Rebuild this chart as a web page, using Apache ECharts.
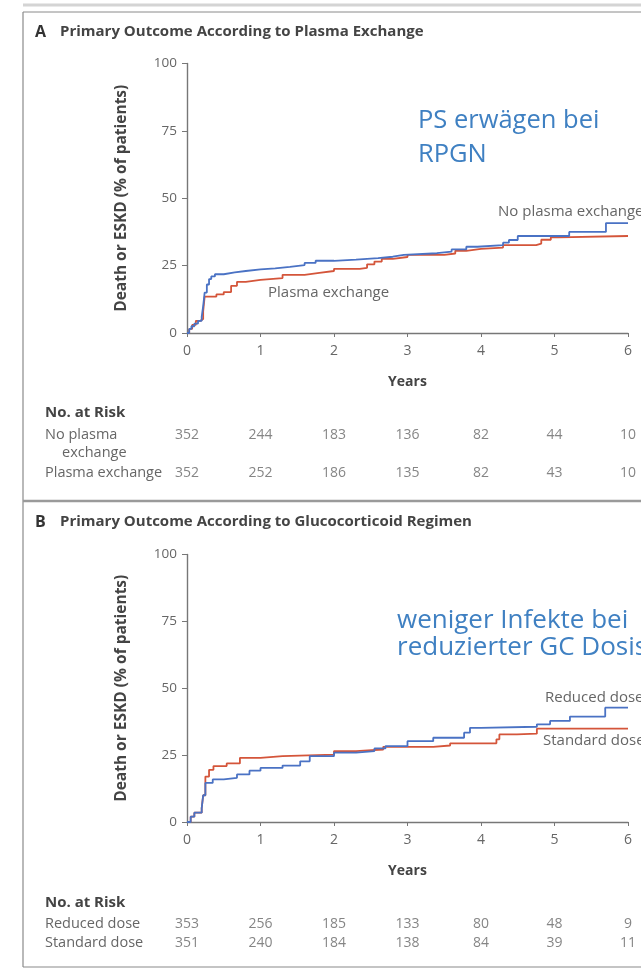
<!DOCTYPE html>
<html><head><meta charset="utf-8">
<script src="https://cdn.jsdelivr.net/npm/echarts@6/dist/echarts.min.js"></script>
<style>html,body{margin:0;padding:0;background:#fff}#c{width:641px;height:970px}</style>
</head><body><div id="c"></div>
<script>
// ---- Data ----
const yearTicks = [0, 1, 2, 3, 4, 5, 6];
const riskYears = [0, 1, 2, 3, 4, 5, 6];
// Panel A
const noPlasma = [[0,0],[0.03,1.5],[0.06,2.5],[0.1,3.5],[0.15,4.5],[0.2,6],[0.22,10],[0.24,15],[0.27,18],[0.3,20],[0.33,21],[0.38,21.8],[0.5,22.5],[0.65,23],[0.8,23.6],[1.0,24],[1.2,24.5],[1.4,25.2],[1.6,26],[1.75,26.8],[2.0,27.2],[2.3,27.8],[2.6,28.3],[2.8,29],[2.95,29.6],[3.4,30.2],[3.6,31],[3.8,32],[3.95,32.6],[4.3,33.5],[4.38,34.5],[4.5,36],[5.2,37.5],[5.7,40.8],[6,40.8]];
const plasma = [[0,0],[0.03,1.5],[0.07,3],[0.12,4.5],[0.18,5.2],[0.22,8],[0.24,13.5],[0.4,14.3],[0.5,15.2],[0.6,17.5],[0.68,19],[0.8,19.7],[1.0,20.4],[1.3,21.6],[1.6,22.3],[1.8,23],[2.0,23.8],[2.35,24.2],[2.45,25.5],[2.55,26.5],[2.65,27.5],[2.8,28.2],[3.0,29],[3.5,29.5],[3.65,30.5],[3.8,31.2],[4.0,31.7],[4.3,32.6],[4.75,33.2],[4.82,34.6],[4.95,35.5],[5.05,36],[6,36]];
const riskNoPlasma = [352, 244, 183, 136, 82, 44, 10];
const riskPlasma = [352, 252, 186, 135, 82, 43, 10];
// Panel B
const reducedDose = [[0,0],[0.05,2],[0.1,3.5],[0.2,5.2],[0.22,10],[0.25,14.6],[0.35,15.9],[0.5,16.5],[0.68,17.8],[0.85,19.2],[1.0,20.2],[1.3,21.1],[1.54,22.7],[1.67,24.6],[2.0,25.9],[2.3,26.5],[2.55,27.5],[2.7,28.4],[3.0,30.2],[3.35,31.5],[3.77,33.4],[3.85,35.2],[4.0,35.6],[4.76,36.5],[4.94,37.8],[5.21,39.4],[5.69,42.75],[6,42.75]];
const standardDose = [[0,0],[0.05,2],[0.1,3.5],[0.2,5.2],[0.22,10],[0.25,17],[0.3,19.5],[0.36,20.9],[0.54,21.9],[0.72,24],[1.0,24.6],[1.3,25.2],[2.0,26.5],[2.3,27.1],[2.67,28.1],[3.35,28.6],[3.58,29.4],[4.21,30.9],[4.25,32.75],[4.49,33],[4.76,34.9],[6,34.9]];
const riskReduced = [353, 256, 185, 133, 80, 48, 9];
const riskStandard = [351, 240, 184, 138, 84, 39, 11];

const BLUE = '#4a72c4', RED = '#d4553a', ANN = '#3f80c2';
const TXT = '#666666', FONT = '"Open Sans", sans-serif';

function kmAxes(gi) {
  return {
    x: { type:'value', gridIndex:gi, min:0, max:6, interval:1,
      axisLine:{lineStyle:{color:'#777',width:1.4}}, axisTick:{length:4,lineStyle:{color:'#777'}},
      splitLine:{show:false}, axisLabel:{color:TXT,fontSize:14,fontFamily:FONT,margin:11},
      name:'Years', nameLocation:'middle', nameGap:42,
      nameTextStyle:{color:'#444',fontSize:14,fontWeight:'bold',fontFamily:FONT} },
    y: { type:'value', gridIndex:gi, min:0, max:100, interval:25,
      axisLine:{show:true,lineStyle:{color:'#777',width:1.4}}, axisTick:{show:true,length:5,lineStyle:{color:'#777'}},
      splitLine:{show:false}, axisLabel:{color:TXT,fontSize:13.5,fontFamily:FONT,margin:10},
      name:'Death or ESKD (% of patients)', nameLocation:'middle', nameGap:57, nameRotate:90,
      nameTextStyle:{color:'#444',fontSize:15.5,fontWeight:'bold',fontFamily:FONT} }
  };
}
function riskAxes(gi) {
  return {
    x: { type:'value', gridIndex:gi, min:0, max:6, show:false },
    y: { type:'value', gridIndex:gi, min:0, max:1, inverse:true, show:false }
  };
}
const aA = kmAxes(0), aB = kmAxes(1), rA = riskAxes(2), rB = riskAxes(3);

function kmSeries(data, color, xi) {
  return { type:'line', step:'end', data:data, xAxisIndex:xi, yAxisIndex:xi,
    symbol:'none', lineStyle:{color:color,width:1.8}, silent:true, z:3 };
}
function riskSeries(vals, row, xi) {
  return { type:'scatter', xAxisIndex:xi, yAxisIndex:xi, symbolSize:0, silent:true,
    data: vals.map((v,i)=>[riskYears[i], row, v]),
    label:{show:true, position:'inside', formatter:p=>String(p.data[2]),
      color:TXT, fontSize:14, fontFamily:FONT} };
}

function txt(x,y,t,o) { return {type:'text', x:x, y:y,
  style:Object.assign({text:t, fill:TXT, font:'14.5px '+FONT, textVerticalAlign:'middle'}, o||{})}; }

const option = {
  animation:false,
  grid:[
    {left:187, top:63.5, width:441, height:269.5},
    {left:187, top:554.5, width:441, height:267.5},
    {left:187, top:435, width:441, height:38},
    {left:187, top:924, width:441, height:19}
  ],
  xAxis:[aA.x, aB.x, rA.x, rB.x],
  yAxis:[aA.y, aB.y, rA.y, rB.y],
  series:[
    kmSeries(plasma, RED, 0),
    kmSeries(noPlasma, BLUE, 0),
    kmSeries(standardDose, RED, 1),
    kmSeries(reducedDose, BLUE, 1),
    riskSeries(riskNoPlasma, 0, 2),
    riskSeries(riskPlasma, 1, 2),
    riskSeries(riskReduced, 0, 3),
    riskSeries(riskStandard, 1, 3)
  ],
  graphic:[
    // frame
    {type:'line', shape:{x1:23,y1:5,x2:641,y2:5}, style:{stroke:'#d4d4d4',lineWidth:3}},
    {type:'line', shape:{x1:23,y1:12,x2:641,y2:12}, style:{stroke:'#8a8a8a',lineWidth:1}},
    {type:'line', shape:{x1:23,y1:12,x2:23,y2:967}, style:{stroke:'#8a8a8a',lineWidth:1.2}},
    {type:'line', shape:{x1:23,y1:501,x2:641,y2:501}, style:{stroke:'#9a9a9a',lineWidth:2.5}},
    {type:'line', shape:{x1:23,y1:967,x2:641,y2:967}, style:{stroke:'#8a8a8a',lineWidth:1.2}},
    // Panel A
    txt(35,32,'A',{font:'bold 16px '+FONT, fill:'#333'}),
    txt(60,32,'Primary Outcome According to Plasma Exchange',{font:'bold 15px '+FONT, fill:'#444'}),
    txt(418,121,'PS erwägen bei',{font:'25.5px '+FONT, fill:ANN}),
    txt(418,155,'RPGN',{font:'25.5px '+FONT, fill:ANN}),
    txt(498,212,'No plasma exchange',{font:'15px '+FONT}),
    txt(268,293,'Plasma exchange',{font:'15px '+FONT}),
    txt(45,413,'No. at Risk',{font:'bold 15px '+FONT, fill:'#444'}),
    txt(45,435,'No plasma',{}),
    txt(62,453,'exchange',{}),
    txt(45,473,'Plasma exchange',{}),
    // Panel B
    txt(35,522,'B',{font:'bold 16px '+FONT, fill:'#333'}),
    txt(60,522,'Primary Outcome According to Glucocorticoid Regimen',{font:'bold 15px '+FONT, fill:'#444'}),
    txt(397,621,'weniger Infekte bei',{font:'26px '+FONT, fill:ANN}),
    txt(397,648,'reduzierter GC Dosis',{font:'26px '+FONT, fill:ANN}),
    txt(545,698,'Reduced dose',{font:'15px '+FONT}),
    txt(543,741,'Standard dose',{font:'15px '+FONT}),
    txt(45,903,'No. at Risk',{font:'bold 15px '+FONT, fill:'#444'}),
    txt(45,924,'Reduced dose',{}),
    txt(45,943,'Standard dose',{})
  ]
};
echarts.init(document.getElementById('c'), null, {renderer:'canvas'}).setOption(option);
</script></body></html>
